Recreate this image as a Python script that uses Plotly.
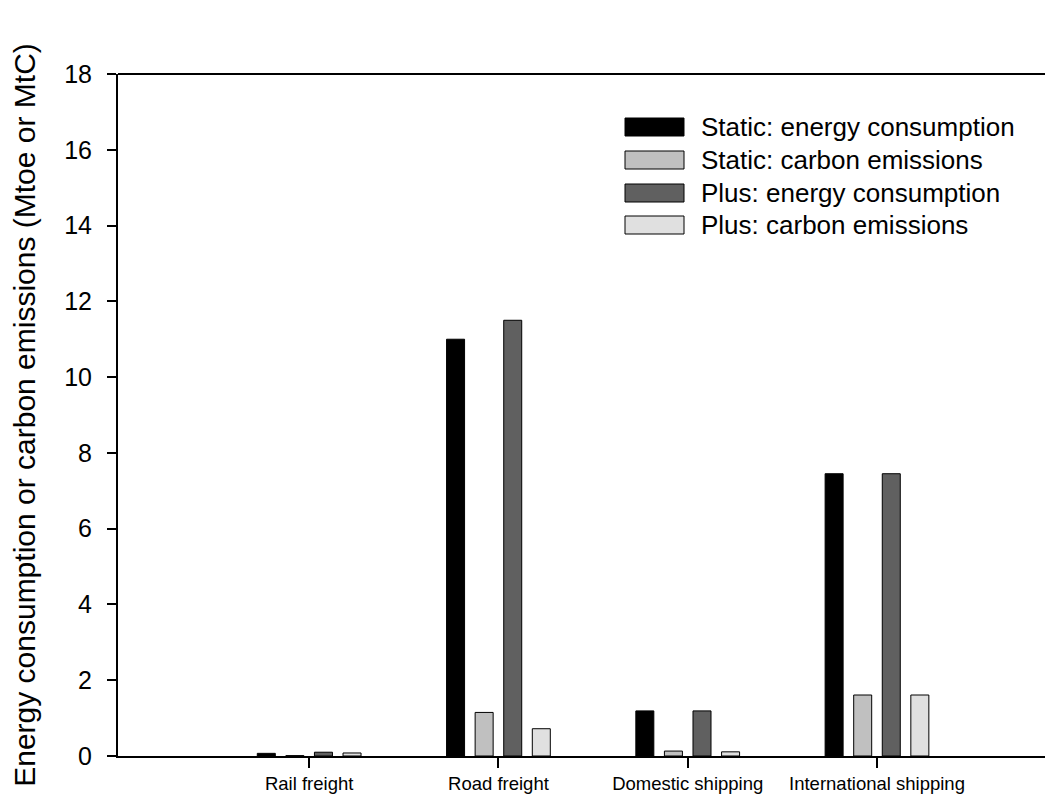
import plotly.graph_objects as go

categories = ["Rail freight", "Road freight", "Domestic shipping", "International shipping"]
static_energy = [0.07, 11.0, 1.19, 7.45]
static_carbon = [0.01, 1.15, 0.13, 1.61]
plus_energy = [0.10, 11.5, 1.19, 7.45]
plus_carbon = [0.08, 0.72, 0.11, 1.61]

series_names = ["Static: energy consumption", "Static: carbon emissions",
                "Plus: energy consumption", "Plus: carbon emissions"]
series_values = [static_energy, static_carbon, plus_energy, plus_carbon]
colors = ["#000000", "#c0c0c0", "#606060", "#e0e0e0"]

OFF = 8  # page body margin
W, H = 1053 - OFF, 808 - OFF
L, R, T, B = 118 - OFF, 0, 74 - OFF, 52
FONT = "Liberation Sans, Arial, sans-serif"

fig = go.Figure()
for name, vals, col in zip(series_names, series_values, colors):
    fig.add_trace(go.Bar(x=categories, y=vals, name=name,
                         marker=dict(color=col, line=dict(color="#000000", width=1)),
                         showlegend=False))

pw = W - L - R
ph = H - T - B
def px_x(p):
    return (p - OFF - L) / pw
def px_y(p):
    return 1 - (p - OFF - T) / ph

shapes = [dict(type="line", xref="paper", yref="paper", x0=0, x1=1, y0=1, y1=1,
               line=dict(color="black", width=2))]
annotations = []
row_centers = [127, 160, 193, 225]
for name, col, yc in zip(series_names, colors, row_centers):
    shapes.append(dict(type="rect", xref="paper", yref="paper",
                       x0=px_x(625), x1=px_x(684), y0=px_y(yc + 9), y1=px_y(yc - 9),
                       fillcolor=col, line=dict(color="black", width=1)))
    annotations.append(dict(xref="paper", yref="paper", x=px_x(699), y=px_y(yc),
                            xanchor="left", yanchor="middle", showarrow=False,
                            text=name, font=dict(family=FONT, size=26, color="black")))

fig.update_layout(
    width=W, height=H,
    margin=dict(l=L, r=R, t=T, b=B),
    plot_bgcolor="white", paper_bgcolor="white",
    barmode="group", bargap=0.396, bargroupgap=0.37,
    font=dict(family=FONT, color="black"),
    shapes=shapes, annotations=annotations,
    xaxis=dict(range=[-1.01, 3.93], showgrid=False, zeroline=False,
               showline=True, linecolor="black", linewidth=2,
               ticks="outside", ticklen=10, tickwidth=2, tickcolor="black",
               tickfont=dict(family=FONT, size=18.5, color="black")),
    yaxis=dict(range=[0, 18], dtick=2, showgrid=False, zeroline=False,
               showline=True, linecolor="black", linewidth=2,
               ticks="outside", ticklen=9, tickwidth=2, tickcolor="black",
               ticklabelstandoff=10,
               tickfont=dict(family=FONT, size=25, color="black"),
               title=dict(text="Energy consumption or carbon emissions (Mtoe or MtC)",
                          font=dict(family=FONT, size=30, color="black"),
                          standoff=20)),
)

fig.write_html("out.html")
